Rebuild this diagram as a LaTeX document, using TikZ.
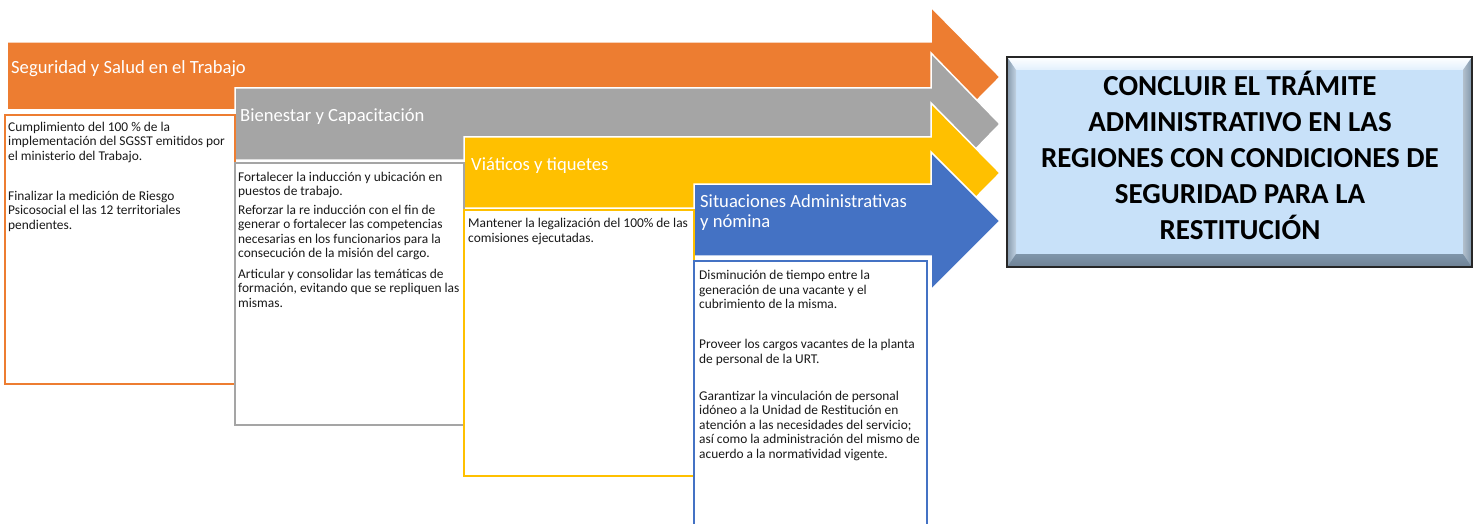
\documentclass[tikz,border=0pt]{standalone}
\usepackage{fontspec}
\setmainfont{Carlito}
\definecolor{cOrange}{HTML}{ED7D31}
\definecolor{cGray}{HTML}{A5A5A5}
\definecolor{cYellow}{HTML}{FFC000}
\definecolor{cBlue}{HTML}{4472C4}
\definecolor{bvFill}{HTML}{C8E1F9}
\definecolor{bvTop}{HTML}{E2F0FD}
\definecolor{bvLeft}{HTML}{A7BFD6}
\definecolor{bvRight}{HTML}{7F95AA}
\definecolor{bvBottom}{HTML}{6F8295}
\tikzset{
  arrowshape/.style={draw=white, line width=1.5pt, line join=miter},
  itembox/.style={fill=white, line width=2pt},
  title/.style={anchor=base west, inner sep=0pt, text=white, align=left,
    font=\fontsize{18.6}{20}\selectfont},
  bodytext/.style={anchor=base west, inner sep=0pt, align=left, text=black!90,
    font=\fontsize{13.4}{14.5}\selectfont},
  goaltext/.style={anchor=base, inner sep=0pt, align=center,
    font=\bfseries\fontsize{29}{35.8}\selectfont}
}
\begin{document}
\begin{tikzpicture}[x=1pt,y=-1pt]
\useasboundingbox (0,0) rectangle (1477,524);
\clip (0,0) rectangle (1477,524);
% arrows
\filldraw[arrowshape, fill=cOrange] (7,42) -- (931,42) -- (931,7) -- (1000,77) -- (931,147) -- (931,110) -- (7,110) -- cycle;
\filldraw[arrowshape, fill=cGray] (235,88) -- (931,88) -- (931,53) -- (1000,124) -- (931,195) -- (931,160) -- (235,160) -- cycle;
\filldraw[arrowshape, fill=cYellow] (464,137) -- (931,137) -- (931,103) -- (1000,173) -- (931,243) -- (931,208) -- (464,208) -- cycle;
\filldraw[arrowshape, fill=cBlue] (694,184) -- (931,184) -- (931,152) -- (1000,221) -- (931,290) -- (931,256) -- (694,256) -- cycle;
% item boxes
\filldraw[itembox, draw=cOrange] (5,115) rectangle (235,384);
\filldraw[itembox, draw=cGray] (235,163) rectangle (464,425);
\filldraw[itembox, draw=cYellow] (464,210) rectangle (694,476);
\filldraw[itembox, draw=cBlue] (694,261) rectangle (927,540);
% titles (base = last line)
\node[title] (t1) at (11,74) {Seguridad y Salud en el Trabajo};
\node[title] (t2) at (240,122) {Bienestar y Capacitación};
\node[title] (t3) at (471,170) {Viáticos y tiquetes};
\node[title] (t4) at (700,227.7) {Situaciones Administrativas\\y nómina};
% body texts (base = last line)
\node[bodytext] (b1) at (8,229) {Cumplimiento del 100 \%  de la\\implementación del SGSST emitidos por\\el ministerio del Trabajo.\\[25.5pt]Finalizar la medición de Riesgo\\Psicosocial el las 12 territoriales\\pendientes.};
\node[bodytext] (b2) at (238,307) {Fortalecer la inducción y ubicación en\\puestos de trabajo.\\[4pt]Reforzar la re inducción con el fin de\\generar o fortalecer las competencias\\necesarias en los funcionarios para la\\consecución de la misión del cargo.\\[6pt]Articular y consolidar las temáticas de\\formación, evitando que se repliquen las\\mismas.};
\node[bodytext] (b3) at (468,242) {Mantener la legalización del 100\% de las\\comisiones ejecutadas.};
\node[bodytext] (b4) at (699,458) {Disminución de tiempo entre la\\generación de una vacante y el\\cubrimiento de la misma.\\[25.5pt]Proveer los cargos vacantes de la planta\\de personal de la URT.\\[22.5pt]Garantizar la vinculación de personal\\idóneo a la Unidad de Restitución en\\atención a las necesidades del servicio;\\así como la administración del mismo de\\acuerdo a la normatividad vigente.};
% goal box with bevel
\fill[bvFill] (1007,57) rectangle (1472,267);
\shade[top color=white, bottom color=bvTop] (1007,57) -- (1472,57) -- (1463,70) -- (1016,70) -- cycle;
\shade[left color=bvLeft!80!black, right color=bvLeft!70!white] (1007,57) -- (1016,70) -- (1016,254) -- (1007,267) -- cycle;
\shade[left color=bvRight!60!white, right color=bvRight] (1472,57) -- (1463,70) -- (1463,254) -- (1472,267) -- cycle;
\shade[top color=bvRight, bottom color=bvBottom] (1007,267) -- (1016,254) -- (1463,254) -- (1472,267) -- cycle;
\draw[black!85, line width=1.6pt] (1007,57) rectangle (1472,267);
\node[goaltext] (goal) at (1240,239) {CONCLUIR EL TRÁMITE\\ADMINISTRATIVO EN LAS\\REGIONES CON CONDICIONES DE\\SEGURIDAD PARA LA\\RESTITUCIÓN};
\end{tikzpicture}
\end{document}
